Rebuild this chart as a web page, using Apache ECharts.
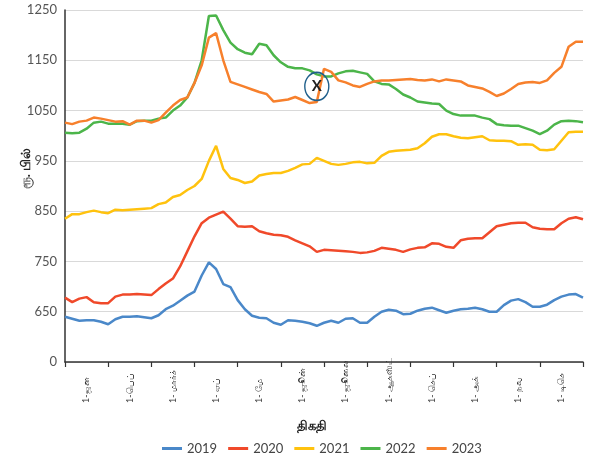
<!DOCTYPE html>
<html>
<head>
<meta charset="utf-8">
<script src="https://cdn.jsdelivr.net/npm/echarts@6/dist/echarts.min.js"></script>
<style>html,body{margin:0;padding:0;background:#fff}#c{width:591px;height:462px}</style>
</head>
<body>
<div id="c"></div>
<script>
var months = ['1-ஜன','1-பெப்','1- மார்ச்','1- ஏப்','1- மே','1- ஜூன்','1- ஜூலை','1- ஆகஸ்ட்','1- செப்','1- அக்','1- நவ','1- டிசெ'];
var seriesNames = ['2019','2020','2021','2022','2023'];
var yTicks = [550, 650, 750, 850, 950, 1050, 1150, 1250];
var yTickLabels = ['0', '650', '750', '850', '950', '1050', '1150', '1250'];

var v2019 = [640,636,632,633,633,630,625,635,640,640,641,639,637,643,655,662,672,682,690,722,748,735,705,699,673,655,642,638,637,628,624,633,632,630,627,622,628,632,628,636,637,628,628,640,650,654,652,645,646,652,656,658,653,648,652,655,656,658,655,650,650,663,672,675,669,660,660,664,673,680,684,685,678];
var v2020 = [678,669,676,679,669,667,667,680,684,684,685,684,683,695,706,716,740,770,800,826,837,843,849,835,820,819,820,810,806,803,802,799,792,786,780,769,773,772,771,770,769,767,768,771,777,775,773,769,774,777,778,786,785,779,777,792,795,796,796,808,820,823,826,827,827,818,815,814,814,826,835,838,834];
var v2021 = [835,844,844,848,851,848,846,853,852,853,854,855,856,864,867,878,882,892,900,914,950,980,934,916,912,906,909,921,924,926,926,930,936,943,944,956,950,944,942,944,947,948,945,946,960,968,970,971,972,975,985,998,1003,1003,999,996,995,997,999,991,990,990,989,982,983,982,972,971,973,990,1007,1008,1008];
var v2022 = [1006,1005,1006,1014,1026,1028,1024,1024,1024,1022,1029,1030,1030,1034,1036,1050,1060,1076,1105,1150,1238,1239,1210,1185,1172,1165,1162,1183,1180,1160,1146,1137,1134,1134,1130,1122,1118,1118,1124,1128,1129,1126,1123,1108,1103,1102,1093,1082,1076,1068,1066,1064,1063,1050,1043,1040,1040,1040,1036,1033,1023,1021,1020,1020,1015,1010,1003,1010,1022,1029,1030,1029,1027];
var v2023 = [1026,1023,1028,1030,1036,1034,1031,1028,1029,1022,1030,1030,1026,1031,1046,1060,1071,1076,1105,1140,1195,1204,1150,1107,1102,1097,1092,1087,1083,1068,1070,1072,1077,1071,1065,1067,1133,1127,1110,1106,1100,1097,1103,1108,1110,1110,1111,1112,1113,1111,1110,1112,1108,1112,1110,1108,1100,1097,1094,1087,1079,1084,1093,1103,1106,1107,1105,1110,1125,1137,1177,1187,1187];
var markerIndex = 35, markerValue = 1098, markerText = 'X';

var values = [v2019, v2020, v2021, v2022, v2023];
var colors = ['#4a88c9', '#f0492a', '#ffc20e', '#4cb54a', '#f7802c'];
var points = v2019.map(function (_, i) { return String(i); });

var chart = echarts.init(document.getElementById('c'), null, {renderer: 'canvas'});
var font = 'Lato, "Open Sans", "Noto Sans", sans-serif';

var series = seriesNames.map(function (n, i) {
  var s = {
    name: n, type: 'line', xAxisIndex: 1, data: values[i],
    showSymbol: false, symbol: 'none', smooth: false,
    lineStyle: {width: 2.5, color: colors[i]}, itemStyle: {color: colors[i]}
  };
  if (n === '2023') {
    s.markPoint = {
      silent: true,
      data: [{
        coord: [markerIndex, markerValue], symbol: 'circle', symbolSize: [24, 28],
        itemStyle: {color: 'rgba(255,255,255,0)', borderColor: '#1f5f8b', borderWidth: 1.5},
        label: {show: true, position: 'inside', formatter: markerText, color: '#222', fontSize: 15, fontWeight: 'bold', fontFamily: font}
      }]
    };
  }
  return s;
});

chart.setOption({
  animation: false,
  backgroundColor: '#fff',
  grid: {left: 65, right: 8, top: 10, bottom: 100, containLabel: false},
  xAxis: [{
    type: 'category', data: months, boundaryGap: true, position: 'bottom',
    axisLine: {show: true, lineStyle: {color: '#333', width: 1.5}},
    axisTick: {show: true, alignWithLabel: false, length: 5, lineStyle: {color: '#333', width: 1.2}},
    axisLabel: {rotate: 90, align: 'left', margin: 41, fontSize: 9, color: '#333', fontFamily: font, interval: 0},
    splitLine: {show: false}
  }, {
    type: 'category', data: points, boundaryGap: false, show: false
  }],
  yAxis: {
    type: 'value', min: 550, max: 1250, interval: 100,
    axisLine: {show: true, lineStyle: {color: '#333', width: 1.5}},
    axisTick: {show: false},
    axisLabel: {
      margin: 8, fontSize: 13, color: '#555', fontFamily: font,
      formatter: function (v) { var k = yTicks.indexOf(v); return k >= 0 ? yTickLabels[k] : ''; }
    },
    splitLine: {show: true, lineStyle: {color: '#d9d9d9', width: 1}}
  },
  legend: {
    data: seriesNames, bottom: 2, left: 157, icon: 'rect', itemWidth: 20, itemHeight: 3, itemGap: 11,
    textStyle: {fontSize: 13, color: '#444', fontFamily: font}
  },
  graphic: [{
    type: 'text', left: 19, top: 148, rotation: Math.PI / 2,
    style: {text: 'ரூ. பில்', fontSize: 13, fontWeight: 'bold', fill: '#222', fontFamily: font}
  }, {
    type: 'text', left: 297, top: 419,
    style: {text: 'திகதி', fontSize: 13, fontWeight: 'bold', fill: '#222', fontFamily: font}
  }],
  series: series
});
</script>
</body>
</html>
